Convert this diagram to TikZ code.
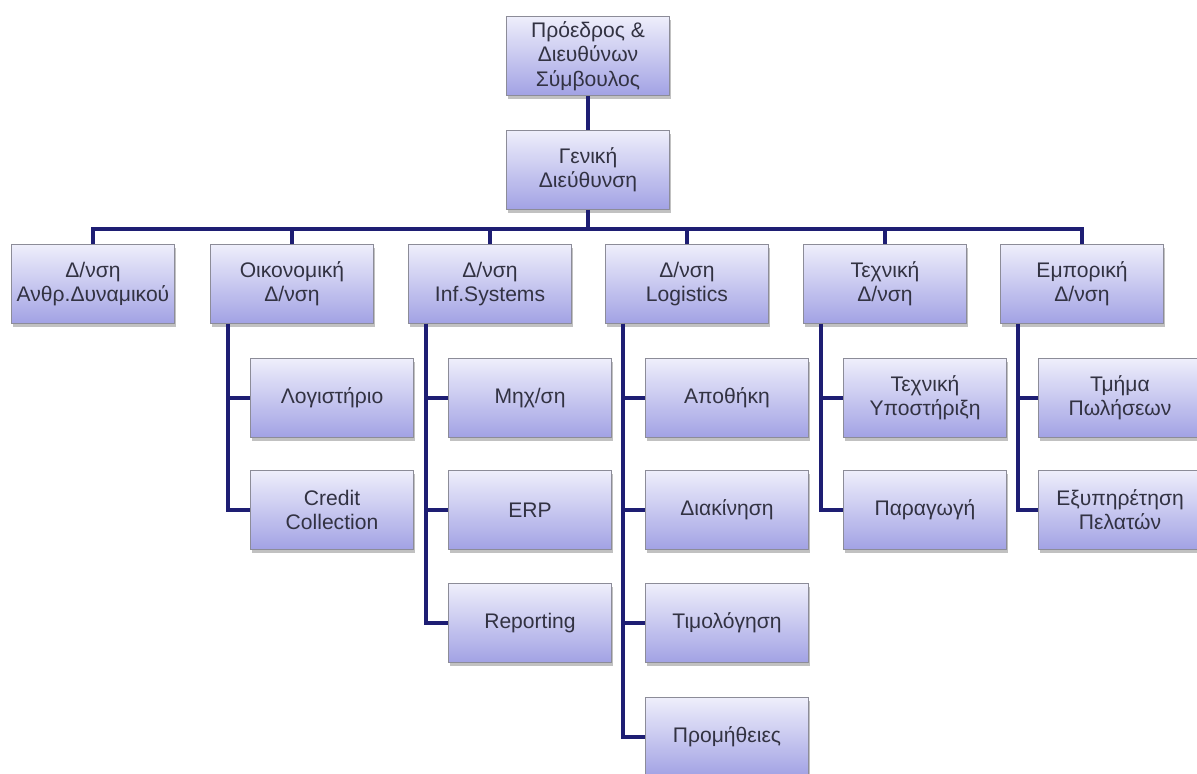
\documentclass[tikz,border=0pt]{standalone}
\usepackage{fontspec}
\setmainfont{Liberation Sans}
\usepackage{tikz}
\usetikzlibrary{shadows}

\definecolor{boxtop}{RGB}{238,238,251}
\definecolor{boxbot}{RGB}{162,162,228}
\definecolor{boxline}{RGB}{140,140,152}
\definecolor{boxtext}{RGB}{50,50,66}
\definecolor{linkblue}{RGB}{30,30,115}

\tikzset{
  unit/.style={draw=boxline, top color=boxtop, bottom color=boxbot,
    minimum width=3.26cm, minimum height=1.58cm, inner sep=1pt,
    align=center, text=boxtext, font=\fontsize{12}{13.8}\selectfont,
    drop shadow={shadow xshift=1pt, shadow yshift=-2pt, opacity=.35, fill=black!70}},
  link/.style={draw=linkblue, line width=2.2pt}
}

\begin{document}
\begin{tikzpicture}[x=0.02cm,y=-0.02cm]
  \useasboundingbox (0,0) rectangle (1197,774);
  % top
  \node[unit] (ceo) at (588,56) {Πρόεδρος \&\\Διευθύνων\\Σύμβουλος};
  \node[unit] (gm) at (588,170) {Γενική\\Διεύθυνση};
  % directorates
  \node[unit] (hr) at (93,284) {Δ/νση\\Ανθρ.Δυναμικού};
  \node[unit] (fin) at (292,284) {Οικονομική\\Δ/νση};
  \node[unit] (is) at (490,284) {Δ/νση\\Inf.Systems};
  \node[unit] (log) at (687,284) {Δ/νση\\Logistics};
  \node[unit] (tech) at (885,284) {Τεχνική\\Δ/νση};
  \node[unit] (sales) at (1082,284) {Εμπορική\\Δ/νση};
  % departments
  \node[unit] (acc) at (332,398) {Λογιστήριο};
  \node[unit] (cred) at (332,510) {Credit\\Collection};
  \node[unit] (mech) at (530,398) {Μηχ/ση};
  \node[unit] (erp) at (530,510) {ERP};
  \node[unit] (rep) at (530,623) {Reporting};
  \node[unit] (store) at (727,398) {Αποθήκη};
  \node[unit] (move) at (727,510) {Διακίνηση};
  \node[unit] (bill) at (727,623) {Τιμολόγηση};
  \node[unit] (buy) at (727,737) {Προμήθειες};
  \node[unit] (supp) at (925,398) {Τεχνική\\Υποστήριξη};
  \node[unit] (prod) at (925,510) {Παραγωγή};
  \node[unit] (team) at (1120,398) {Τμήμα\\Πωλήσεων};
  \node[unit] (care) at (1120,510) {Εξυπηρέτηση\\Πελατών};

  % lines
  \coordinate (bus) at (588,229);
  \draw[link] (ceo.south) -- (gm.north);
  \draw[link] (gm.south) -- (bus);
  \foreach \d in {hr,fin,is,log,tech,sales}
    \draw[link] (\d.north) |- (bus);
  \draw[link] ([xshift=0.35cm]fin.south west) |- (acc.west);
  \draw[link] ([xshift=0.35cm]fin.south west) |- (cred.west);
  \draw[link] ([xshift=0.35cm]is.south west) |- (mech.west);
  \draw[link] ([xshift=0.35cm]is.south west) |- (erp.west);
  \draw[link] ([xshift=0.35cm]is.south west) |- (rep.west);
  \draw[link] ([xshift=0.35cm]log.south west) |- (store.west);
  \draw[link] ([xshift=0.35cm]log.south west) |- (move.west);
  \draw[link] ([xshift=0.35cm]log.south west) |- (bill.west);
  \draw[link] ([xshift=0.35cm]log.south west) |- (buy.west);
  \draw[link] ([xshift=0.35cm]tech.south west) |- (supp.west);
  \draw[link] ([xshift=0.35cm]tech.south west) |- (prod.west);
  \draw[link] ([xshift=0.35cm]sales.south west) |- (team.west);
  \draw[link] ([xshift=0.35cm]sales.south west) |- (care.west);
\end{tikzpicture}
\end{document}
